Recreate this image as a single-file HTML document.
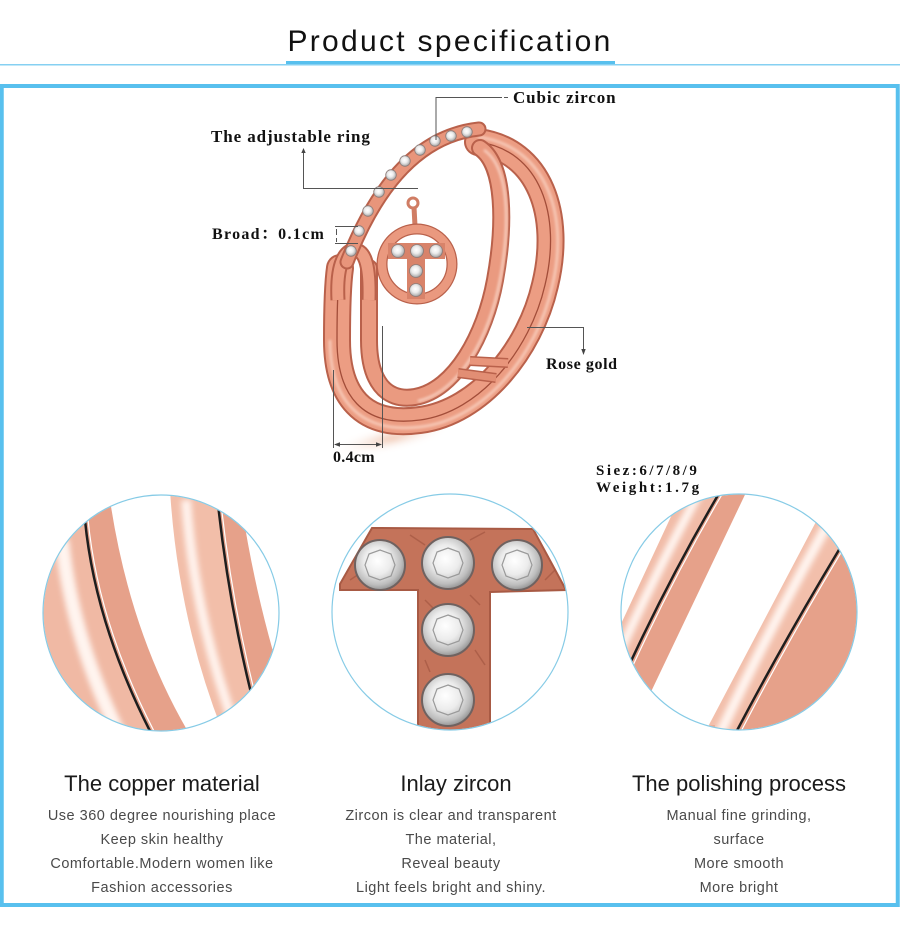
<!DOCTYPE html>
<html><head><meta charset="utf-8">
<style>
html,body{margin:0;padding:0;background:#fff;}
body{width:900px;height:940px;overflow:hidden;position:relative;}
svg{position:absolute;left:0;top:0;}
</style></head>
<body>
<svg width="900" height="940" viewBox="0 0 900 940" xmlns="http://www.w3.org/2000/svg">
<defs>
  <clipPath id="cl1"><circle cx="161" cy="613" r="117.5"/></clipPath>
  <clipPath id="cl2"><circle cx="450" cy="612" r="117.5"/></clipPath>
  <clipPath id="cl3"><circle cx="739" cy="612" r="117.5"/></clipPath>
  <radialGradient id="sg" cx="45%" cy="42%" r="60%">
    <stop offset="0" stop-color="#ffffff"/>
    <stop offset="0.45" stop-color="#ececec"/>
    <stop offset="0.8" stop-color="#bdbdbd"/>
    <stop offset="1" stop-color="#8e8e8e"/>
  </radialGradient>
  <radialGradient id="shad" cx="50%" cy="50%" r="50%">
    <stop offset="0" stop-color="#efc2ab"/>
    <stop offset="1" stop-color="#ffffff" stop-opacity="0"/>
  </radialGradient>
  <filter id="bl" x="-50%" y="-50%" width="200%" height="200%"><feGaussianBlur stdDeviation="3"/></filter>
  <filter id="bl2" x="-50%" y="-50%" width="200%" height="200%"><feGaussianBlur stdDeviation="1.2"/></filter>
</defs>

<!-- header -->
<text x="450" y="51" font-family="Liberation Sans, sans-serif" font-size="30" letter-spacing="2.3" text-anchor="middle" fill="#111">Product specification</text>
<rect x="286" y="61" width="329" height="3" fill="#58c0ee"/>
<rect x="0" y="64" width="900" height="1.5" fill="#86d0f2"/>

<!-- frame -->
<rect x="1.75" y="86" width="896" height="819" fill="none" stroke="#58c0ee" stroke-width="4"/>

<!-- ===== ring illustration ===== -->
<ellipse cx="392" cy="438" rx="62" ry="12" fill="url(#shad)" filter="url(#bl)" transform="rotate(-12 392 438)"/>

<!-- outer double band -->
<path d="M478 142 C540 150 562 215 545 285 C530 350 480 412 420 420 C362 428 337 395 337 340 C337 300 338 282 340 268" fill="none" stroke="#b9614b" stroke-width="28" stroke-linecap="round"/>
<path d="M478 142 C540 150 562 215 545 285 C530 350 480 412 420 420 C362 428 337 395 337 340 C337 300 338 282 340 268" fill="none" stroke="#ec9d83" stroke-width="24" stroke-linecap="round"/>
<path d="M478 142 C540 150 562 215 545 285 C530 350 480 412 420 420 C362 428 337 395 337 340 C337 300 338 282 340 268" fill="none" stroke="#a24d39" stroke-width="1.3"/>
<path d="M478 137 C546 146 570 215 552 287 C537 355 484 420 420 427 C358 434 330 398 330 340" fill="none" stroke="#f7c8b6" stroke-width="3" filter="url(#bl2)"/>

<!-- inner band -->
<path d="M480 148 C505 165 505 225 495 280 C485 335 455 390 415 397 C385 402 369 380 369 340 C369 305 369 285 369 268" fill="none" stroke="#b9614b" stroke-width="18" stroke-linecap="round"/>
<path d="M480 148 C505 165 505 225 495 280 C485 335 455 390 415 397 C385 402 369 380 369 340 C369 305 369 285 369 268" fill="none" stroke="#ea9a80" stroke-width="14" stroke-linecap="round"/>
<path d="M484 150 C510 168 510 225 500 280 C490 335 460 392 418 401" fill="none" stroke="#f8cfc0" stroke-width="2.5" filter="url(#bl2)"/>

<!-- bridges -->
<path d="M470 361 L508 363" stroke="#b9614b" stroke-width="10"/>
<path d="M470 361 L508 363" stroke="#e8957b" stroke-width="7"/>
<path d="M458 373 L496 378" stroke="#b9614b" stroke-width="10"/>
<path d="M458 373 L496 378" stroke="#e28e74" stroke-width="7"/>

<!-- U loop on left -->
<path d="M338 300 C336 262 346 250 354 250 C364 250 370 262 369 300" fill="none" stroke="#b9614b" stroke-width="15"/>
<path d="M338 300 C336 262 346 250 354 250 C364 250 370 262 369 300" fill="none" stroke="#ec9d83" stroke-width="11"/>

<!-- pave band -->
<path d="M479 129 Q395 138 347 262" fill="none" stroke="#b9614b" stroke-width="15" stroke-linecap="round"/>
<path d="M479 129 Q395 138 347 262" fill="none" stroke="#e8957b" stroke-width="11" stroke-linecap="round"/>
<g fill="url(#sg)" stroke="#8c7b78" stroke-width="0.8">
  <circle cx="467" cy="132" r="5.3"/><circle cx="451" cy="136" r="5.3"/>
  <circle cx="435" cy="141" r="5.3"/><circle cx="420" cy="150" r="5.3"/>
  <circle cx="405" cy="161" r="5.3"/><circle cx="391" cy="175" r="5.3"/>
  <circle cx="379" cy="192" r="5.3"/><circle cx="368" cy="211" r="5.3"/>
  <circle cx="359" cy="231" r="5.3"/><circle cx="351" cy="251" r="5.3"/>
</g>

<!-- pendant -->
<circle cx="413" cy="203" r="5" fill="none" stroke="#d07d64" stroke-width="3"/>
<path d="M414 207 L415 226" stroke="#d07d64" stroke-width="5"/>
<circle cx="417" cy="264" r="35" fill="none" stroke="#b9614b" stroke-width="11"/>
<circle cx="417" cy="264" r="35" fill="none" stroke="#ea997f" stroke-width="8.5"/>
<rect x="388" y="243" width="57" height="16" fill="#d8836a"/>
<rect x="407" y="243" width="18" height="56" fill="#d8836a"/>
<g fill="url(#sg)" stroke="#8c7b78" stroke-width="0.8">
  <circle cx="398" cy="251" r="6.5"/><circle cx="417" cy="251" r="6.5"/>
  <circle cx="436" cy="251" r="6.5"/><circle cx="416" cy="271" r="6.5"/>
  <circle cx="416" cy="290" r="6.5"/>
</g>

<!-- annotation lines -->
<g stroke="#555" stroke-width="1" fill="none">
  <path d="M436 140 L436 97.5 L502 97.5"/>
  <path d="M504 97.5 L508 97.5"/>
  <path d="M303.5 152 L303.5 188.5 L418 188.5"/>
  <path d="M335 226.5 L358 226.5 M335 243.5 L358 243.5"/>
  <path d="M336.5 229 L336.5 235 M336.5 238 L336.5 242"/>
  <path d="M527 327.5 L583.5 327.5 L583.5 350"/>
  <path d="M333.5 370 L333.5 448 M382.5 326 L382.5 448"/>
  <path d="M335 444.5 L381 444.5"/>
</g>
<g fill="#444">
  <path d="M303.5 148 L301.3 153 L305.7 153 Z"/>
  <path d="M583.5 355 L581.3 349 L585.7 349 Z"/>
  <path d="M334 444.5 L340 442.3 L340 446.7 Z"/>
  <path d="M382 444.5 L376 442.3 L376 446.7 Z"/>
</g>

<g font-family="Liberation Serif, 'Noto Serif CJK SC', serif" font-weight="bold" fill="#111">
  <text x="513" y="103" font-size="17" letter-spacing="0.9">Cubic zircon</text>
  <text x="211" y="142" font-size="17" letter-spacing="0.9">The adjustable ring</text>
  <text x="212" y="239" font-size="16" letter-spacing="1.3">Broad：0.1cm</text>
  <text x="546" y="369" font-size="16" letter-spacing="0.6">Rose gold</text>
  <text x="333" y="462" font-size="16" letter-spacing="0.3">0.4cm</text>
  <text x="596" y="475" font-size="15" letter-spacing="2.5">Siez:6/7/8/9</text>
  <text x="596" y="492" font-size="15" letter-spacing="2.6">Weight:1.7g</text>
</g>

<!-- ===== left circle ===== -->
<circle cx="161" cy="613" r="118" fill="#fff"/>
<g clip-path="url(#cl1)">
  <path d="M20 480 L85 480 L85 520 Q95 624 152 735 L152 760 L20 760 Z" fill="#f0b9a4"/>
  <path d="M62 540 Q72 640 122 740" fill="none" stroke="#fff4ef" stroke-width="14" filter="url(#bl)"/>
  <path d="M85 520 Q95 624 152 735 L190 735 Q130 634 110 500 Z" fill="#e6a18a"/>
  <path d="M170 490 Q178 618 222 730 L262 735 Q230 620 217 495 Z" fill="#f2bea9"/>
  <path d="M186 500 Q194 615 236 730" fill="none" stroke="#fff2ec" stroke-width="10" filter="url(#bl)"/>
  <path d="M217 495 Q230 620 262 735 L300 735 Q258 620 240 495 Z" fill="#e6a18a"/>
  <path d="M85 520 Q95 624 152 735" fill="none" stroke="#1e1e1e" stroke-width="2.5"/>
  <path d="M88 519 Q98 624 156 735" fill="none" stroke="#fff" stroke-width="1.2"/>
  <path d="M217 495 Q230 620 262 735" fill="none" stroke="#1e1e1e" stroke-width="2.5"/>
  <path d="M220 494 Q233 620 266 735" fill="none" stroke="#fff" stroke-width="1.2"/>
</g>
<circle cx="161" cy="613" r="118" fill="none" stroke="#86cbe6" stroke-width="1.2"/>

<!-- ===== middle circle ===== -->
<circle cx="450" cy="612" r="118" fill="#fff"/>
<g clip-path="url(#cl2)">
  <path d="M372 528 L533 529 L566 590 L490 592 L490 740 L418 740 L418 590 L340 590 L340 584 Z" fill="#c4735a" stroke="#a85a44" stroke-width="2"/>
  <g fill="none" stroke="#9e523d" stroke-width="1.5" opacity="0.6">
    <path d="M350 580 L365 570 M410 535 L425 545 M470 540 L485 532 M545 580 L555 570 M425 600 L435 610 M475 650 L485 665 M425 660 L430 672 M470 595 L480 605"/>
  </g>
  <g fill="url(#sg)" stroke="#6f6260" stroke-width="2">
    <circle cx="380" cy="565" r="25"/><circle cx="448" cy="563" r="26"/>
    <circle cx="517" cy="565" r="25"/><circle cx="448" cy="630" r="26"/>
    <circle cx="448" cy="700" r="26"/>
  </g>
  <g fill="none" stroke="#9a9a9a" stroke-width="1.2">
    <polygon points="380,550 391,554 395,565 391,576 380,580 369,576 365,565 369,554"/>
    <polygon points="448,548 459,552 463,563 459,574 448,578 437,574 433,563 437,552"/>
    <polygon points="517,550 528,554 532,565 528,576 517,580 506,576 502,565 506,554"/>
    <polygon points="448,615 459,619 463,630 459,641 448,645 437,641 433,630 437,619"/>
    <polygon points="448,685 459,689 463,700 459,711 448,715 437,711 433,700 437,689"/>
  </g>
</g>
<circle cx="450" cy="612" r="118" fill="none" stroke="#86cbe6" stroke-width="1.2"/>

<!-- ===== right circle ===== -->
<circle cx="739" cy="612" r="118" fill="#fff"/>
<g clip-path="url(#cl3)">
  <path d="M688 480 L727 480 Q655 600 596 740 L567 740 Z" fill="#f1bca8"/>
  <path d="M705 482 Q640 600 580 742" fill="none" stroke="#fff4ef" stroke-width="9" filter="url(#bl)"/>
  <path d="M727 480 L752 480 L628 740 L596 740 Q655 600 727 480 Z" fill="#e6a18a"/>
  <path d="M838 480 L882 480 Q800 610 732 740 L701 740 Z" fill="#f2bfab"/>
  <path d="M852 482 Q780 605 716 742" fill="none" stroke="#fff4ef" stroke-width="10" filter="url(#bl)"/>
  <path d="M882 480 L900 480 L900 740 L732 740 Q800 610 882 480 Z" fill="#e6a18a"/>
  <path d="M727 480 Q655 600 596 740" fill="none" stroke="#1e1e1e" stroke-width="2.5"/>
  <path d="M730 481 Q658 601 600 741" fill="none" stroke="#fff" stroke-width="1.2"/>
  <path d="M882 480 Q800 610 732 740" fill="none" stroke="#1e1e1e" stroke-width="2.5"/>
  <path d="M885 481 Q803 611 736 741" fill="none" stroke="#fff" stroke-width="1.2"/>
  <path d="M680 740 Q690 730 715 728" fill="none" stroke="#e9aa93" stroke-width="6"/>
</g>
<circle cx="739" cy="612" r="118" fill="none" stroke="#86cbe6" stroke-width="1.2"/>

<!-- ===== captions ===== -->
<g font-family="Liberation Sans, sans-serif" text-anchor="middle">
  <text x="162" y="791" font-size="22" fill="#1a1a1a">The copper material</text>
  <text x="456" y="791" font-size="22" fill="#1a1a1a">Inlay zircon</text>
  <text x="739" y="791" font-size="22" fill="#1a1a1a">The polishing process</text>
  <g font-size="14.5" fill="#4a4a4a" letter-spacing="0.5">
    <text x="162" y="820">Use 360 degree nourishing place</text>
    <text x="162" y="844">Keep skin healthy</text>
    <text x="162" y="868">Comfortable.Modern women like</text>
    <text x="162" y="892">Fashion accessories</text>
    <text x="451" y="820">Zircon is clear and transparent</text>
    <text x="451" y="844">The material,</text>
    <text x="451" y="868">Reveal beauty</text>
    <text x="451" y="892">Light feels bright and shiny.</text>
    <text x="739" y="820">Manual fine grinding,</text>
    <text x="739" y="844">surface</text>
    <text x="739" y="868">More smooth</text>
    <text x="739" y="892">More bright</text>
  </g>
</g>
</svg>
</body></html>
